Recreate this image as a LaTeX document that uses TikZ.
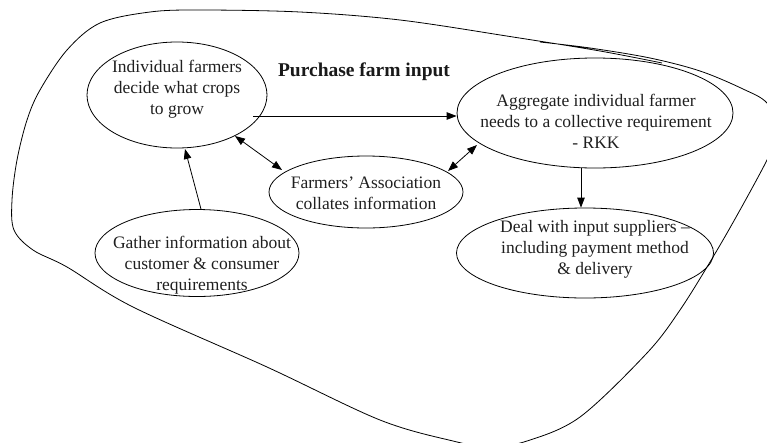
\documentclass[tikz,border=0pt]{standalone}
\usepackage{fontspec}
\setmainfont{Liberation Serif}
\usetikzlibrary{shapes.geometric,arrows.meta,calc}
\begin{document}
\begin{tikzpicture}[x=1pt,y=-1pt,
  ell/.style={draw,ellipse,line width=0.8pt,inner sep=0pt},
  txt/.style={align=center,inner sep=0pt,text=black!88,
    font=\fontsize{17.5}{21}\selectfont},
  arr/.style={line width=0.8pt,-{Triangle[length=10pt,width=7.5pt]}},
  darr/.style={line width=0.8pt,{Triangle[length=10pt,width=7.5pt]}-{Triangle[length=10pt,width=7.5pt]}}]
\useasboundingbox (0,0) rectangle (767,442);
\begin{scope}
\clip (0,0) rectangle (767,442);
% outer freehand boundary of the activity
\draw[line width=0.8pt] plot[smooth,tension=0.55] coordinates {
  (662,63) (600,51) (513,37) (400,20) (300,12) (200,10) (150,12)
  (100,23) (67,50) (40,90) (27,120) (17,160) (12,200) (14,230)
  (33,250) (67,267) (133,307) (267,367) (380,420) (453,441) (490,447)
  (527,441) (580,417) (647,353) (680,310) (713,257) (740,210)
  (767,160) (780,130) (767,103) (743,89) (700,71) (650,58) (590,48) (540,42)};
\end{scope}

% activities
\node[ell,minimum width=180pt,minimum height=106pt] (ind) at (177,95) {};
\node[txt] (indt) at (177,89) {Individual farmers\\decide what crops\\to grow};

\node[ell,minimum width=194pt,minimum height=72pt] (assoc) at (366,192) {};
\node[txt] (assoct) at (366,193) {Farmers' Association\\collates information};

\node[ell,minimum width=276pt,minimum height=110pt] (agg) at (595,113) {};
\node[txt] (aggt) at (596,121) {Aggregate individual farmer\\needs to a collective requirement\\- RKK};

\node[ell,minimum width=257pt,minimum height=90pt] (deal) at (585,253) {};
\node[txt] (dealt) at (595,249) {Deal with input suppliers --\\including payment method\\\& delivery};

\node[ell,minimum width=204pt,minimum height=87pt] (gather) at (197,253) {};
\node[txt] (gathert) at (202,265) {Gather information about\\customer \& consumer\\requirements};

\node[anchor=base,inner sep=0pt,text=black!90,
  font=\fontsize{19.5}{23}\selectfont\bfseries] (title) at (364,76) {Purchase farm input};

% connectors
\draw[arr] ($(ind.center)+(76,21)$) coordinate (s1) -- (s1 -| agg.west);
\draw[darr] ($(ind.center)+(58,41)$) -- ($(assoc.center)+(-84,-22)$);
\draw[darr] ($(assoc.center)+(82,-21)$) -- ($(agg.center)+(-118,32)$);
\draw[arr] ($(gather.north)+(4,0)$) -- ($(ind.center)+(8,54)$);
\draw[arr] ($(agg.south)+(-14,0)$) coordinate (s2) -- (s2 |- deal.north);
\end{tikzpicture}
\end{document}
